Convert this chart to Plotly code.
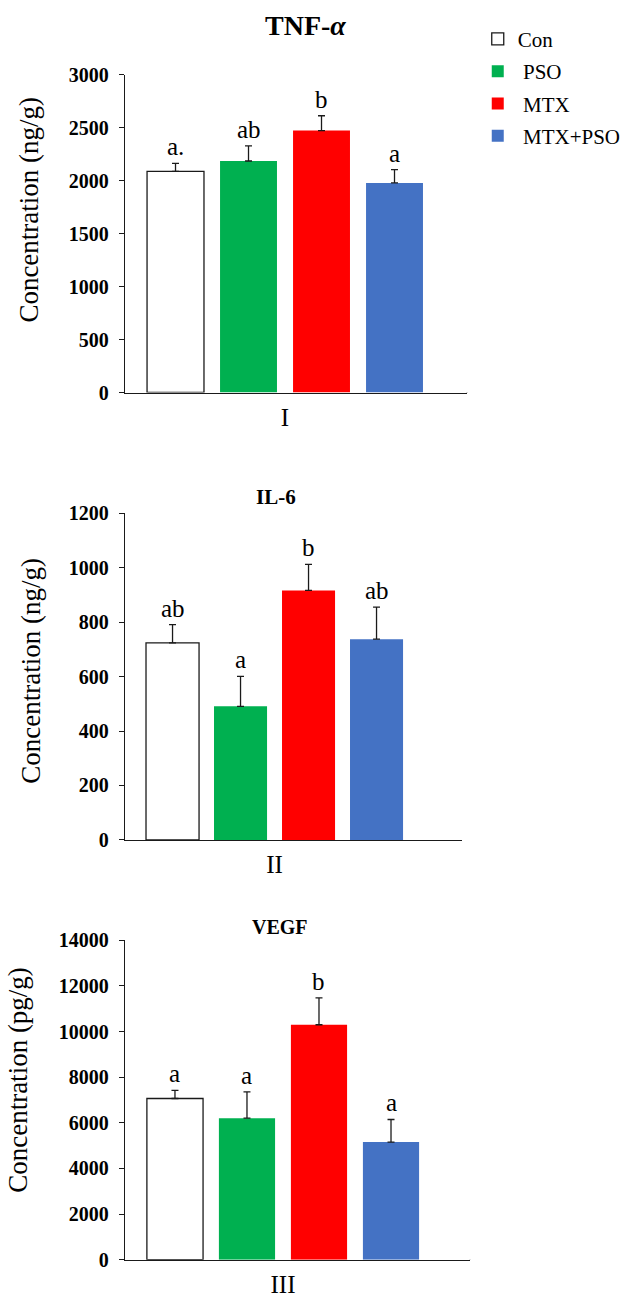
import plotly.graph_objects as go

# ---------------- data ----------------
groups = ["Con", "PSO", "MTX", "MTX+PSO"]
legend_names = ["Con", "\u00a0PSO", "\u00a0MTX", "\u00a0MTX+PSO"]
colors = ["#FFFFFF", "#00B050", "#FF0000", "#4472C4"]

tnf_mean = [2088, 2187, 2474, 1980]
tnf_err = [77, 142, 140, 126]
tnf_letters = ["a.", "ab", "b", "a"]

il6_mean = [724, 491, 917, 738]
il6_err = [67, 110, 96, 118]
il6_letters = ["ab", "a", "b", "ab"]

vegf_mean = [7065, 6203, 10296, 5155]
vegf_err = [359, 1149, 1177, 991]
vegf_letters = ["a", "a", "b", "a"]

panel_titles = ["TNF-<i>α</i>", "IL-6", "VEGF"]
panel_labels = ["I", "II", "III"]
y_titles = ["Concentration (ng/g)", "Concentration (ng/g)", "Concentration (pg/g)"]
y_ranges = [[0, 3000], [0, 1200], [0, 14000]]
y_dticks = [500, 200, 2000]

W, H = 637, 1316
SERIF = "Liberation Serif"

# layout geometry (pixels)
x_dom_px = [(125, 467), (125, 462), (125, 470)]
y_dom_px = [(65, 388), (511, 843), (945, 1270)]
x_ranges = [[-0.692, 3.993], [-0.699, 4.257], [-0.694, 4.097]]
title_pos = [(305, 15, 28), (276, 494, 21), (280, 932, 20)]
ytitle_pos = [(29, 202), (31, 671), (18, 1087)]

panels = [
    (tnf_mean, tnf_err, tnf_letters),
    (il6_mean, il6_err, il6_letters),
    (vegf_mean, vegf_err, vegf_letters),
]

fig = go.Figure()
annotations = []
shapes = []
layout_axes = {}

for p, (means, errs, letters) in enumerate(panels):
    sfx = "" if p == 0 else str(p + 1)
    xa, ya = "x" + sfx, "y" + sfx
    for i, g in enumerate(groups):
        fig.add_trace(go.Bar(
            x=[g], y=[means[i]],
            name=legend_names[i],
            legendgroup=g,
            showlegend=(p == 0),
            marker=dict(color=colors[i],
                        line=dict(color="#1a1a1a" if i == 0 else colors[i],
                                  width=1.3 if i == 0 else 0)),
            error_y=dict(type="data", array=[errs[i]], arrayminus=[0],
                         symmetric=False, color="#1a1a1a", thickness=1.3, width=3.5),
            xaxis=xa, yaxis=ya,
        ))
        annotations.append(dict(
            x=g, y=means[i] + errs[i], xref=xa, yref=ya,
            text=letters[i], showarrow=False, yanchor="bottom", yshift=1,
            font=dict(family=SERIF, size=25, color="black"),
        ))
    x0, x1 = x_dom_px[p]
    yt, yb = y_dom_px[p]
    layout_axes["xaxis" + sfx] = dict(
        domain=[x0 / W, x1 / W], range=x_ranges[p], anchor=ya,
        type="category", categoryorder="array", categoryarray=groups,
        showline=True, linecolor="#1a1a1a", linewidth=1.3,
        ticks="", tickmode="array", tickvals=[(len(groups) - 1) / 2],
        ticktext=[panel_labels[p]], ticklabelstandoff=2,
        tickfont=dict(family=SERIF, size=25, color="black"),
        showgrid=False, zeroline=False, fixedrange=True,
    )
    layout_axes["yaxis" + sfx] = dict(
        domain=[1 - yb / H, 1 - yt / H], range=y_ranges[p], anchor=xa,
        dtick=y_dticks[p], tick0=0, tickformat="d",
        showline=True, linecolor="#1a1a1a", linewidth=1.3,
        ticks="outside", ticklen=5, tickwidth=1.3, tickcolor="#1a1a1a",
        ticklabelstandoff=6,
        tickfont=dict(family=SERIF, size=20, color="black", weight="bold"),
        showgrid=False, zeroline=False,
    )
    # end tick at right of category axis
    shapes.append(dict(type="line", xref=xa + " domain", yref=ya,
                       x0=1, x1=1, y0=0, y1=-5, ysizemode="pixel", yanchor=0,
                       line=dict(color="#1a1a1a", width=1.3)))
    tx, ty, ts = title_pos[p]
    annotations.append(dict(
        x=tx / W, y=1 - ty / H, xref="paper", yref="paper",
        text="<b>" + panel_titles[p] + "</b>", showarrow=False,
        xanchor="center", yanchor="middle",
        font=dict(family=SERIF, size=ts, color="black"),
    ))
    yx, yy = ytitle_pos[p]
    annotations.append(dict(
        x=yx / W, y=1 - yy / H, xref="paper", yref="paper",
        text=y_titles[p], showarrow=False, textangle=-90,
        xanchor="center", yanchor="middle",
        font=dict(family=SERIF, size=27, color="black"),
    ))

fig.update_layout(
    width=W, height=H,
    margin=dict(l=0, r=0, t=0, b=0),
    paper_bgcolor="white", plot_bgcolor="white",
    barmode="group", bargap=0.22,
    annotations=annotations, shapes=shapes,
    legend=dict(x=0.75, y=0.994, xanchor="left", yanchor="top",
                font=dict(family=SERIF, size=21, color="black"),
                tracegroupgap=2, bgcolor="rgba(0,0,0,0)"),
    showlegend=True,
    **layout_axes,
)

fig.write_html("out.html", config={"displayModeBar": False},
               post_script="document.body.style.margin='0';")
